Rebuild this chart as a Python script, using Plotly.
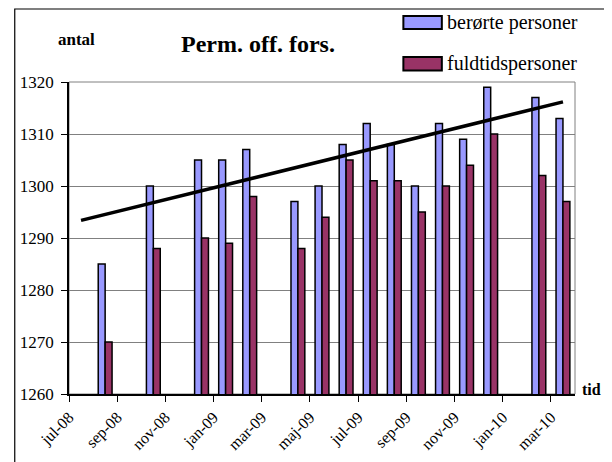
import numpy as np
import plotly.graph_objects as go

# ---- data ----
all_months = ["jul-08", "aug-08", "sep-08", "okt-08", "nov-08", "dec-08",
              "jan-09", "feb-09", "mar-09", "apr-09", "maj-09", "jun-09",
              "jul-09", "aug-09", "sep-09", "okt-09", "nov-09", "dec-09",
              "jan-10", "feb-10", "mar-10"]
data_months = ["aug-08", "okt-08", "dec-08", "jan-09", "feb-09", "apr-09",
               "maj-09", "jun-09", "jul-09", "aug-09", "sep-09", "okt-09",
               "nov-09", "dec-09", "feb-10", "mar-10"]
berorte = [1285, 1300, 1305, 1305, 1307, 1297, 1300, 1308, 1312, 1308,
           1300, 1312, 1309, 1319, 1317, 1313]
fuldtid = [1270, 1288, 1290, 1289, 1298, 1288, 1294, 1305, 1301, 1301,
           1295, 1300, 1304, 1310, 1302, 1297]
tick_labels = all_months[::2]

# ---- geometry helpers (reference pixel coords; page body has 8px margin) ----
OFF = 8
W, H = 612, 462
L, R, T, B = 62 - OFF, 575 - OFF, 82 - OFF, 394 - OFF


def px(x):
    return (x - OFF - L) / (R - L)


def py(y):
    return (B - (y - OFF)) / (B - T)


# month centres (axis in month units, each month centred between ticks)
xs = np.array([all_months.index(m) + 0.5 for m in data_months])
bw = 0.287

FONT = "'Liberation Serif', 'Times New Roman', Times, serif"
BLUE = "#9999FF"
PURPLE = "#993366"

fig = go.Figure()
fig.add_trace(go.Bar(x=xs, y=berorte, name="berørte personer", width=bw,
                     offset=-bw, marker=dict(color=BLUE,
                                             line=dict(color="black", width=1.5)),
                     showlegend=False))
fig.add_trace(go.Bar(x=xs, y=fuldtid, name="fuldtidspersoner", width=bw,
                     offset=0, marker=dict(color=PURPLE,
                                           line=dict(color="black", width=1.5)),
                     showlegend=False))

# linear trendline of "berørte personer" (1 period backward forecast)
slope, intercept = np.polyfit(xs, berorte, 1)
tx = np.array([xs[0] - 1, xs[-1]])
fig.add_trace(go.Scatter(x=tx, y=slope * tx + intercept, mode="lines",
                         line=dict(color="black", width=3.5),
                         showlegend=False, hoverinfo="skip"))

fig.update_layout(
    width=W, height=H,
    margin=dict(l=L, r=W - R, t=T, b=H - B),
    paper_bgcolor="white", plot_bgcolor="white",
    barmode="overlay",
    font=dict(family=FONT, size=17, color="black"),
    xaxis=dict(range=[0, len(all_months)], tickmode="array",
               tickvals=list(range(0, len(all_months), 2)), ticktext=tick_labels,
               tickangle=-45, ticks="outside", ticklen=6, tickcolor="black",
               showline=True, linecolor="black", linewidth=1.5,
               showgrid=False, zeroline=False,
               tickfont=dict(family=FONT, size=16)),
    yaxis=dict(range=[1260, 1320], dtick=10, ticks="outside", ticklen=6,
               tickcolor="black", showline=True, linecolor="black", linewidth=1.5,
               showgrid=True, gridcolor="#808080", gridwidth=1, zeroline=False,
               ticklabelstandoff=4,
               tickfont=dict(family=FONT, size=17)),
)

shapes = [
    # plot area border (grey)
    dict(type="rect", xref="paper", yref="paper", x0=0, x1=1, y0=0, y1=1,
         line=dict(color="#808080", width=1), layer="below"),
    # chart area border
    dict(type="rect", xref="paper", yref="paper", x0=px(7), x1=px(640),
         y0=py(490), y1=py(9), line=dict(color="black", width=1.2)),
    # legend keys
    dict(type="rect", xref="paper", yref="paper", x0=px(401), x1=px(440),
         y0=py(29), y1=py(16), fillcolor=BLUE, line=dict(color="black", width=2)),
    dict(type="rect", xref="paper", yref="paper", x0=px(401), x1=px(440),
         y0=py(70.5), y1=py(57), fillcolor=PURPLE, line=dict(color="black", width=2)),
]
fig.update_layout(shapes=shapes)

annotations = [
    dict(text="<b>Perm. off. fors.</b>", x=px(254), y=py(44), xref="paper",
         yref="paper", showarrow=False, xanchor="center", yanchor="middle",
         font=dict(family=FONT, size=24)),
    dict(text="<b>antal</b>", x=px(70), y=py(39), xref="paper", yref="paper",
         showarrow=False, xanchor="center", yanchor="middle",
         font=dict(family=FONT, size=17)),
    dict(text="<b>tid</b>", x=px(603), y=py(389), xref="paper", yref="paper",
         showarrow=False, xanchor="right", yanchor="middle",
         font=dict(family=FONT, size=16)),
    dict(text="berørte personer", x=px(443), y=py(22.5), xref="paper",
         yref="paper", showarrow=False, xanchor="left", yanchor="middle",
         font=dict(family=FONT, size=20)),
    dict(text="fuldtidspersoner", x=px(443), y=py(63.5), xref="paper",
         yref="paper", showarrow=False, xanchor="left", yanchor="middle",
         font=dict(family=FONT, size=20)),
]
fig.update_layout(annotations=annotations)

fig.write_html("out.html")
